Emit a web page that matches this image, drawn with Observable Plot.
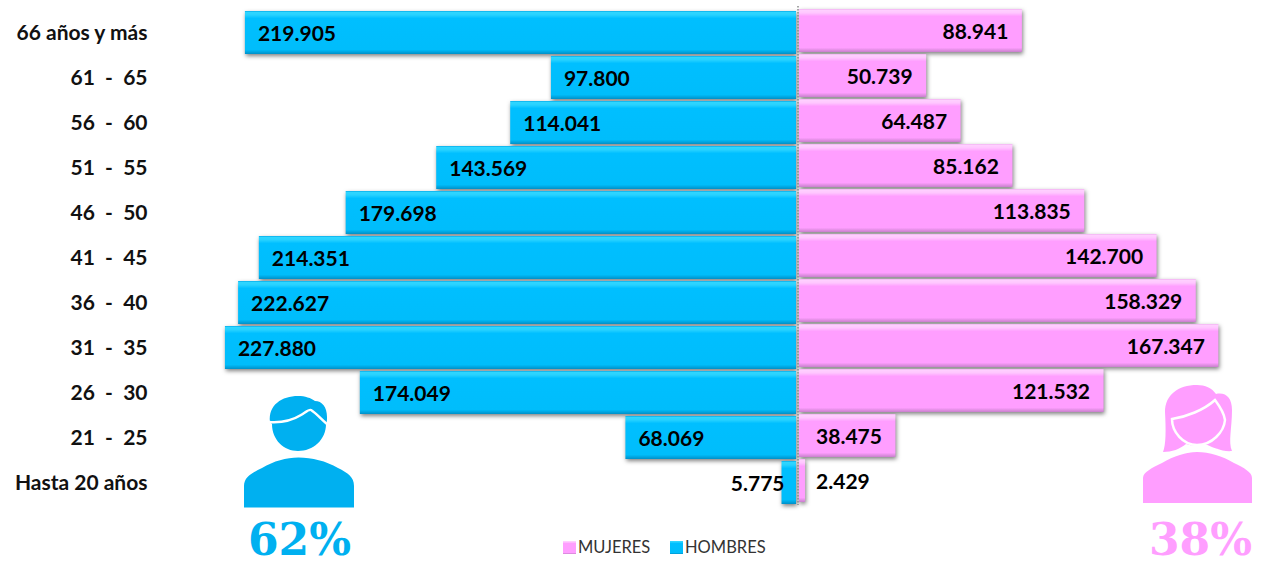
<!DOCTYPE html>
<html>
<head>
<meta charset="utf-8">
<script src="https://cdn.jsdelivr.net/npm/d3@7"></script>
<script src="https://cdn.jsdelivr.net/npm/@observablehq/plot@0.6"></script>
<style>
  html, body { margin: 0; padding: 0; background: #fff; }
  #chart { width: 1265px; height: 565px; overflow: hidden; }
  svg { display: block; }
</style>
</head>
<body>
<div id="chart"></div>
<script>
const ages = ["66 años y más", "61\u00a0\u00a0-\u00a0\u00a065", "56\u00a0\u00a0-\u00a0\u00a060", "51\u00a0\u00a0-\u00a0\u00a055", "46\u00a0\u00a0-\u00a0\u00a050", "41\u00a0\u00a0-\u00a0\u00a045", "36\u00a0\u00a0-\u00a0\u00a040", "31\u00a0\u00a0-\u00a0\u00a035", "26\u00a0\u00a0-\u00a0\u00a030", "21\u00a0\u00a0-\u00a0\u00a025", "Hasta 20 años"];
const hombres = [219905, 97800, 114041, 143569, 179698, 214351, 222627, 227880, 174049, 68069, 5775];
const mujeres = [88941, 50739, 64487, 85162, 113835, 142700, 158329, 167347, 121532, 38475, 2429];
const blue = "#00BDFB", pink = "#FF9EFF", iconBlue = "#00B0F0";
const font = "Lato, Carlito, sans-serif";

const rows = ages.map((age, i) => ({age, h: hombres[i], m: mujeres[i]}));
const fmt = d3.formatLocale({decimal: ",", thousands: ".", grouping: [3], currency: ["", ""]}).format(",d");
const big = rows.filter(d => d.h > 10000);
const small = rows.filter(d => d.h <= 10000);

function decor() {
  const g = d3.create("svg:g");
  const defs = g.append("defs");
  const grad = (id, stops) => {
    const l = defs.append("linearGradient").attr("id", id).attr("x1", 0).attr("x2", 0).attr("y1", 0).attr("y2", 1);
    stops.forEach(([o, c]) => l.append("stop").attr("offset", o).attr("stop-color", c));
  };
  grad("gBlue", [[0, "#00A8E8"], [0.03, "#2FD6FF"], [0.09, "#28D2FF"], [0.17, "#00BFFF"], [0.9, "#00BDFB"], [1, "#0090C8"]]);
  grad("gPink", [[0, "#F0B0F0"], [0.03, "#FFCFFF"], [0.09, "#FFC6FF"], [0.17, "#FF9EFF"], [0.9, "#FF9EFF"], [1, "#C880CC"]]);

  // Hombre icon
  g.append("path").attr("fill", iconBlue)
    .attr("d", "M244 507.5V486C244 477 252 473 262 468C274 461 286 457.5 298.5 457.5C312 457.5 326 461 338 468C348 473 354 477 354 486V507.5Z");
  g.append("path").attr("fill", iconBlue)
    .attr("d", "M270 422C268 405 282 396 298 396C305 396 311 398 315 401C322 401 327 407 327 417C327 420 327 422 326 424C326 440 313 451 298 451C284 451 272 440 272 424Z");
  g.append("path").attr("fill", "none").attr("stroke", "#fff").attr("stroke-width", 2.5)
    .attr("d", "M269 422C283 423 293 420 301 415C306 412 309 409 311 410C316 413 321 419 327 424");

  // Mujer icon
  g.append("path").attr("fill", pink)
    .attr("d", "M1143 503V478C1143 472 1152 468 1162 463C1174 456 1186 452 1197 452C1210 452 1222 456 1234 463C1244 468 1252 472 1252 478V503Z");
  g.append("path").attr("fill", pink)
    .attr("d", "M1163 452C1166 445 1166 430 1165 412C1165 395 1178 385 1197 385C1205 385 1212 388 1216 394C1226 392 1232 398 1232 410C1232 428 1228 442 1232 451C1222 452 1212 447 1205 444C1198 446 1192 446 1186 444C1180 449 1172 452 1163 452Z");
  g.append("path").attr("fill", pink).attr("stroke", "#fff").attr("stroke-width", 2.5)
    .attr("d", "M1172 419C1186 417 1204 410 1215 400C1218 404 1224 412 1225 420C1224 432 1212 445 1197 445C1183 445 1172 432 1172 419Z");
  g.append("path").attr("fill", "none").attr("stroke", "#fff").attr("stroke-width", 3)
    .attr("d", "M1180 450C1186 453 1192 450 1197 448C1204 450 1212 453 1218 450");

  // Percentages
  const pct = (x, t, c) => g.append("text").attr("x", x).attr("y", 555).attr("text-anchor", "middle")
    .attr("font-family", "'DejaVu Serif', serif").attr("font-weight", "bold").attr("font-size", 44).attr("fill", c).text(t);
  pct(299.5, "62%", iconBlue);
  pct(1200.5, "38%", pink);

  // Legend
  const leg = (x, t, fill) => {
    g.append("rect").attr("x", x).attr("y", 541).attr("width", 13).attr("height", 13).attr("fill", fill);
    g.append("text").attr("x", x + 15).attr("y", 553).attr("text-anchor", "start").attr("font-family", font).attr("font-size", 16.5).attr("fill", "#333").text(t);
  };
  leg(563, "MUJERES", "url(#gPink)");
  leg(670, "HOMBRES", "url(#gBlue)");
  return g.node();
}

const chart = Plot.plot({
  width: 1265,
  height: 565,
  marginLeft: 155,
  marginRight: 0,
  marginTop: 6,
  marginBottom: 60,
  x: {domain: [-256385, 186552], axis: null},
  y: {domain: ages, padding: 0.05, label: null},
  marks: [
    decor,
    Plot.barX(rows, {x: d => -d.h, y: "age", fill: "url(#gBlue)", dx: -1.5, dy: 2, imageFilter: "drop-shadow(1px 2px 2px rgba(0,0,0,0.5))"}),
    Plot.barX(rows, {x: "m", y: "age", fill: "url(#gPink)", dx: 1.5, imageFilter: "drop-shadow(1px 2px 2px rgba(0,0,0,0.5))"}),
    Plot.ruleX([0], {stroke: "#8a8a8a", strokeWidth: 1.5, strokeDasharray: "1.5 1.5"}),
    Plot.axisY({tickSize: 0, tickPadding: 8, dy: 2, label: null, fontSize: 21, fontWeight: "bold", fontFamily: font, fill: "#111", textStroke: "none"}),
    Plot.text(big, {x: d => -d.h, y: "age", text: d => fmt(d.h), textAnchor: "start", dx: 11, dy: 3, fontSize: 21, fontWeight: "bold", fontFamily: font, fill: "#000"}),
    Plot.text(big, {x: "m", y: "age", text: d => fmt(d.m), textAnchor: "end", dx: -12.5, dy: 1, fontSize: 21, fontWeight: "bold", fontFamily: font, fill: "#000"}),
    Plot.text(small, {x: d => -d.h, y: "age", text: d => fmt(d.h), textAnchor: "end", dx: 1, dy: 3, fontSize: 21, fontWeight: "bold", fontFamily: font, fill: "#000"}),
    Plot.text(small, {x: "m", y: "age", text: d => fmt(d.m), textAnchor: "start", dx: 12, dy: 1, fontSize: 21, fontWeight: "bold", fontFamily: font, fill: "#000"})
  ]
});
document.getElementById("chart").appendChild(chart);
</script>
</body>
</html>
